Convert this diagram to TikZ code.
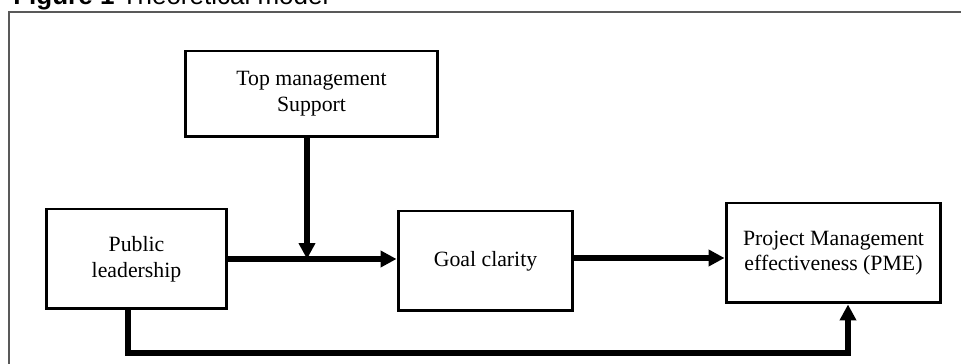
\documentclass[tikz,border=0pt]{standalone}
\usepackage{fontspec}
\setmainfont{Liberation Serif}
\newfontfamily\capfont{Liberation Sans}
\usetikzlibrary{arrows.meta}
\tikzset{
box/.style={draw, line width=1.7pt, align=center, font=\fontsize{12.4}{14.6}\selectfont},
link/.style={line width=3.4pt},
arr/.style={link, -{Triangle[length=9pt,width=9pt]}}
}
\begin{document}
\begin{tikzpicture}[x=0.02cm,y=-0.02cm]
\useasboundingbox (0,0) rectangle (961,364);
\draw[gray!70!black, line width=0.9pt] (9,400) -- (9,12) -- (990,12);
\node[anchor=base west, inner sep=0pt, font=\capfont\fontsize{14.8}{17}\selectfont] (cap) at (13,5){\textbf{Figure 1} Theoretical model};
\node[box, minimum width=5.06cm, minimum height=1.72cm] (top) at (311.5,94){Top management\\Support};
\node[box, minimum width=3.62cm, minimum height=2cm] (pub) at (136.5,259){Public\\leadership};
\node[box, minimum width=3.5cm, minimum height=2cm] (goal) at (485.5,261){Goal clarity};
\node[box, minimum width=4.3cm, minimum height=2cm] (pme) at (833.5,253){Project Management\\effectiveness (PME)};
\coordinate (mid) at (307,259);
\coordinate (c1) at (128,353);
\coordinate (c2) at (848,353);
\draw[arr](pub.east |- mid) -- (goal.west |- mid);
\draw[arr](top.south -| mid) -- (mid);
\draw[arr](goal.east |- 0,258) -- (pme.west |- 0,258);
\draw[arr](pub.south -| c1) -- (c1) -- (c2) -- (pme.south -| c2);
\end{tikzpicture}
\end{document}
